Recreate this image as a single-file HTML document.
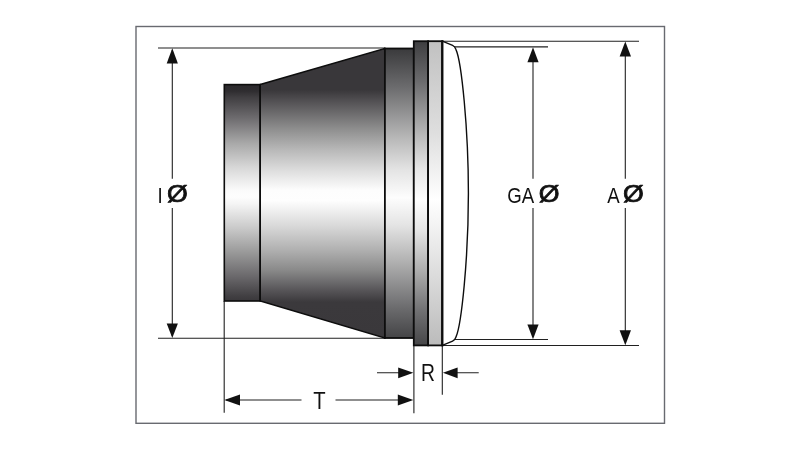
<!DOCTYPE html>
<html lang="en">
<head>
<meta charset="utf-8">
<title>Headlight dimension drawing</title>
<style>
html,body{margin:0;padding:0;background:#fff;}
body{width:800px;height:450px;overflow:hidden;}
svg{display:block;will-change:transform;}
text{font-family:"Liberation Sans",sans-serif;fill:#111;}
</style>
</head>
<body>
<svg width="800" height="450" viewBox="0 0 800 450">
<defs>
<linearGradient id="gRear" x1="0" y1="0" x2="0" y2="1">
<stop offset="0.000" stop-color="#2c2a2d"/><stop offset="0.030" stop-color="#2f2d30"/><stop offset="0.058" stop-color="#403e41"/><stop offset="0.160" stop-color="#706e71"/><stop offset="0.270" stop-color="#a8a8a8"/><stop offset="0.385" stop-color="#d8d8d8"/><stop offset="0.490" stop-color="#fbfbfb"/><stop offset="0.520" stop-color="#fdfdfd"/><stop offset="0.552" stop-color="#f4f4f4"/><stop offset="0.666" stop-color="#c8c8c8"/><stop offset="0.778" stop-color="#989898"/><stop offset="0.892" stop-color="#686669"/><stop offset="0.980" stop-color="#403e41"/><stop offset="1.000" stop-color="#3a383b"/>
</linearGradient>
<linearGradient id="gCone" x1="0" y1="0" x2="0" y2="1">
<stop offset="0.000" stop-color="#39373a"/><stop offset="0.143" stop-color="#39373a"/><stop offset="0.178" stop-color="#504e51"/><stop offset="0.281" stop-color="#909090"/><stop offset="0.350" stop-color="#b8b8b8"/><stop offset="0.427" stop-color="#e0e0e0"/><stop offset="0.490" stop-color="#fdfdfd"/><stop offset="0.525" stop-color="#fefefe"/><stop offset="0.610" stop-color="#dadada"/><stop offset="0.696" stop-color="#b0b0b0"/><stop offset="0.765" stop-color="#8a8a8a"/><stop offset="0.834" stop-color="#585659"/><stop offset="0.876" stop-color="#3b393c"/><stop offset="1.000" stop-color="#3a383b"/>
</linearGradient>
<linearGradient id="gFront" x1="0" y1="0" x2="0" y2="1">
<stop offset="0.000" stop-color="#3a3a3c"/><stop offset="0.140" stop-color="#6e6e70"/><stop offset="0.300" stop-color="#b4b4b4"/><stop offset="0.420" stop-color="#e4e4e4"/><stop offset="0.515" stop-color="#fdfdfd"/><stop offset="0.610" stop-color="#e4e4e4"/><stop offset="0.750" stop-color="#ababab"/><stop offset="0.900" stop-color="#6a6a6c"/><stop offset="1.000" stop-color="#444446"/>
</linearGradient>
<linearGradient id="gRingD" x1="0" y1="0" x2="0" y2="1">
<stop offset="0.000" stop-color="#3e3e40"/><stop offset="0.135" stop-color="#6c6c6e"/><stop offset="0.308" stop-color="#b8b8b8"/><stop offset="0.420" stop-color="#e6e6e6"/><stop offset="0.520" stop-color="#fefefe"/><stop offset="0.620" stop-color="#e6e6e6"/><stop offset="0.750" stop-color="#afafaf"/><stop offset="0.883" stop-color="#727274"/><stop offset="1.000" stop-color="#464648"/>
</linearGradient>
<linearGradient id="gRingL" x1="0" y1="0" x2="0" y2="1">
<stop offset="0.000" stop-color="#c1c1c1"/><stop offset="0.300" stop-color="#dedede"/><stop offset="0.520" stop-color="#ffffff"/><stop offset="1.000" stop-color="#bbbbbb"/>
</linearGradient>
</defs>
<!-- frame -->
<rect x="136" y="26.5" width="528.5" height="396.8" fill="none" stroke="#686a70" stroke-width="1.4"/>

<!-- extension / dimension lines -->
<g stroke="#202020" stroke-width="1.1" fill="none">
<line x1="158" y1="48" x2="385" y2="48"/>
<line x1="158" y1="338.2" x2="385" y2="338.2"/>
<line x1="172.3" y1="50" x2="172.3" y2="178.8"/>
<line x1="172.3" y1="208" x2="172.3" y2="336"/>
<line x1="442" y1="41.2" x2="639" y2="41.2"/>
<line x1="442" y1="345.5" x2="639" y2="345.5"/>
<line x1="453" y1="46.9" x2="548" y2="46.9"/>
<line x1="453" y1="339.5" x2="548" y2="339.5"/>
<line x1="533" y1="50" x2="533" y2="178.8"/>
<line x1="533" y1="208" x2="533" y2="336"/>
<line x1="625.3" y1="44" x2="625.3" y2="178.8"/>
<line x1="625.3" y1="208" x2="625.3" y2="342"/>
<line x1="224.2" y1="301" x2="224.2" y2="412.7"/>
<line x1="413.9" y1="345" x2="413.9" y2="413.3"/>
<line x1="442.3" y1="345" x2="442.3" y2="394.8"/>
<line x1="226" y1="400" x2="301.5" y2="400"/>
<line x1="335.5" y1="400" x2="411" y2="400"/>
<line x1="377" y1="372.8" x2="411" y2="372.8"/>
<line x1="446" y1="372.8" x2="478.7" y2="372.8"/>
</g>
<!-- arrow heads -->
<g fill="#111">
<polygon points="172.3,48.3 166.7,63.6 177.9,63.6"/>
<polygon points="172.3,338 166.7,323.4 177.9,323.4"/>
<polygon points="533,47.2 527.4,62.2 538.6,62.2"/>
<polygon points="533,339.2 527.4,324.6 538.6,324.6"/>
<polygon points="625.3,41.5 619.6,56.6 631,56.6"/>
<polygon points="625.3,345.2 619.6,330.2 631,330.2"/>
<polygon points="224.3,400 240,394.6 240,405.4"/>
<polygon points="413.3,400 397.8,394.6 397.8,405.4"/>
<polygon points="413.4,372.8 398.2,367.4 398.2,378.2"/>
<polygon points="442.9,372.8 457.6,367.4 457.6,378.2"/>
</g>

<!-- body -->
<g stroke="#0d0d0d" stroke-width="1.8" stroke-linejoin="miter">
<rect x="224.3" y="84.6" width="35.9" height="216.4" fill="url(#gRear)" stroke-width="1.6"/>
<polygon points="260.2,84.6 384.9,48.5 384.9,338 260.2,301" fill="url(#gCone)" stroke-width="1.6"/>
<rect x="384.9" y="48.5" width="28.9" height="289.5" fill="url(#gFront)"/>
<rect x="413.8" y="41.2" width="14.3" height="304.2" fill="url(#gRingD)"/>
<rect x="428.1" y="41.2" width="14.2" height="304.2" fill="url(#gRingL)"/>
<path d="M442.3,41.2 L452.6,45.3 Q454.8,46.2 456,49.6 C461.4,61.7 468.4,127.5 468.4,193.25 C468.4,259 461.4,324.8 456,336.9 Q454.8,340.3 452.6,341.2 L442.3,345.3" fill="#fff" stroke-width="1.4"/>
<line x1="442.3" y1="40.3" x2="442.3" y2="346.3" stroke-width="2.3"/>
</g>

<!-- labels -->
<g font-size="23">
<text transform="translate(157.4,202.8) scale(0.81,1)">I</text>
<text transform="translate(507.2,202.8) scale(0.81,1)">GA</text>
<text transform="translate(607.2,202.8) scale(0.81,1)">A</text>
<text transform="translate(313.2,408.6) scale(0.88,1)">T</text>
<text transform="translate(421.0,381.0) scale(0.84,1)">R</text>
</g>
<g font-size="23.2" stroke="#111" stroke-width="0.75" stroke-linejoin="round">
<text transform="translate(166.9,202.4) scale(1.15,1)">Ø</text>
<text transform="translate(538.7,202.2) scale(1.15,1)">Ø</text>
<text transform="translate(623.1,202.2) scale(1.15,1)">Ø</text>
</g>
</svg>
</body>
</html>
